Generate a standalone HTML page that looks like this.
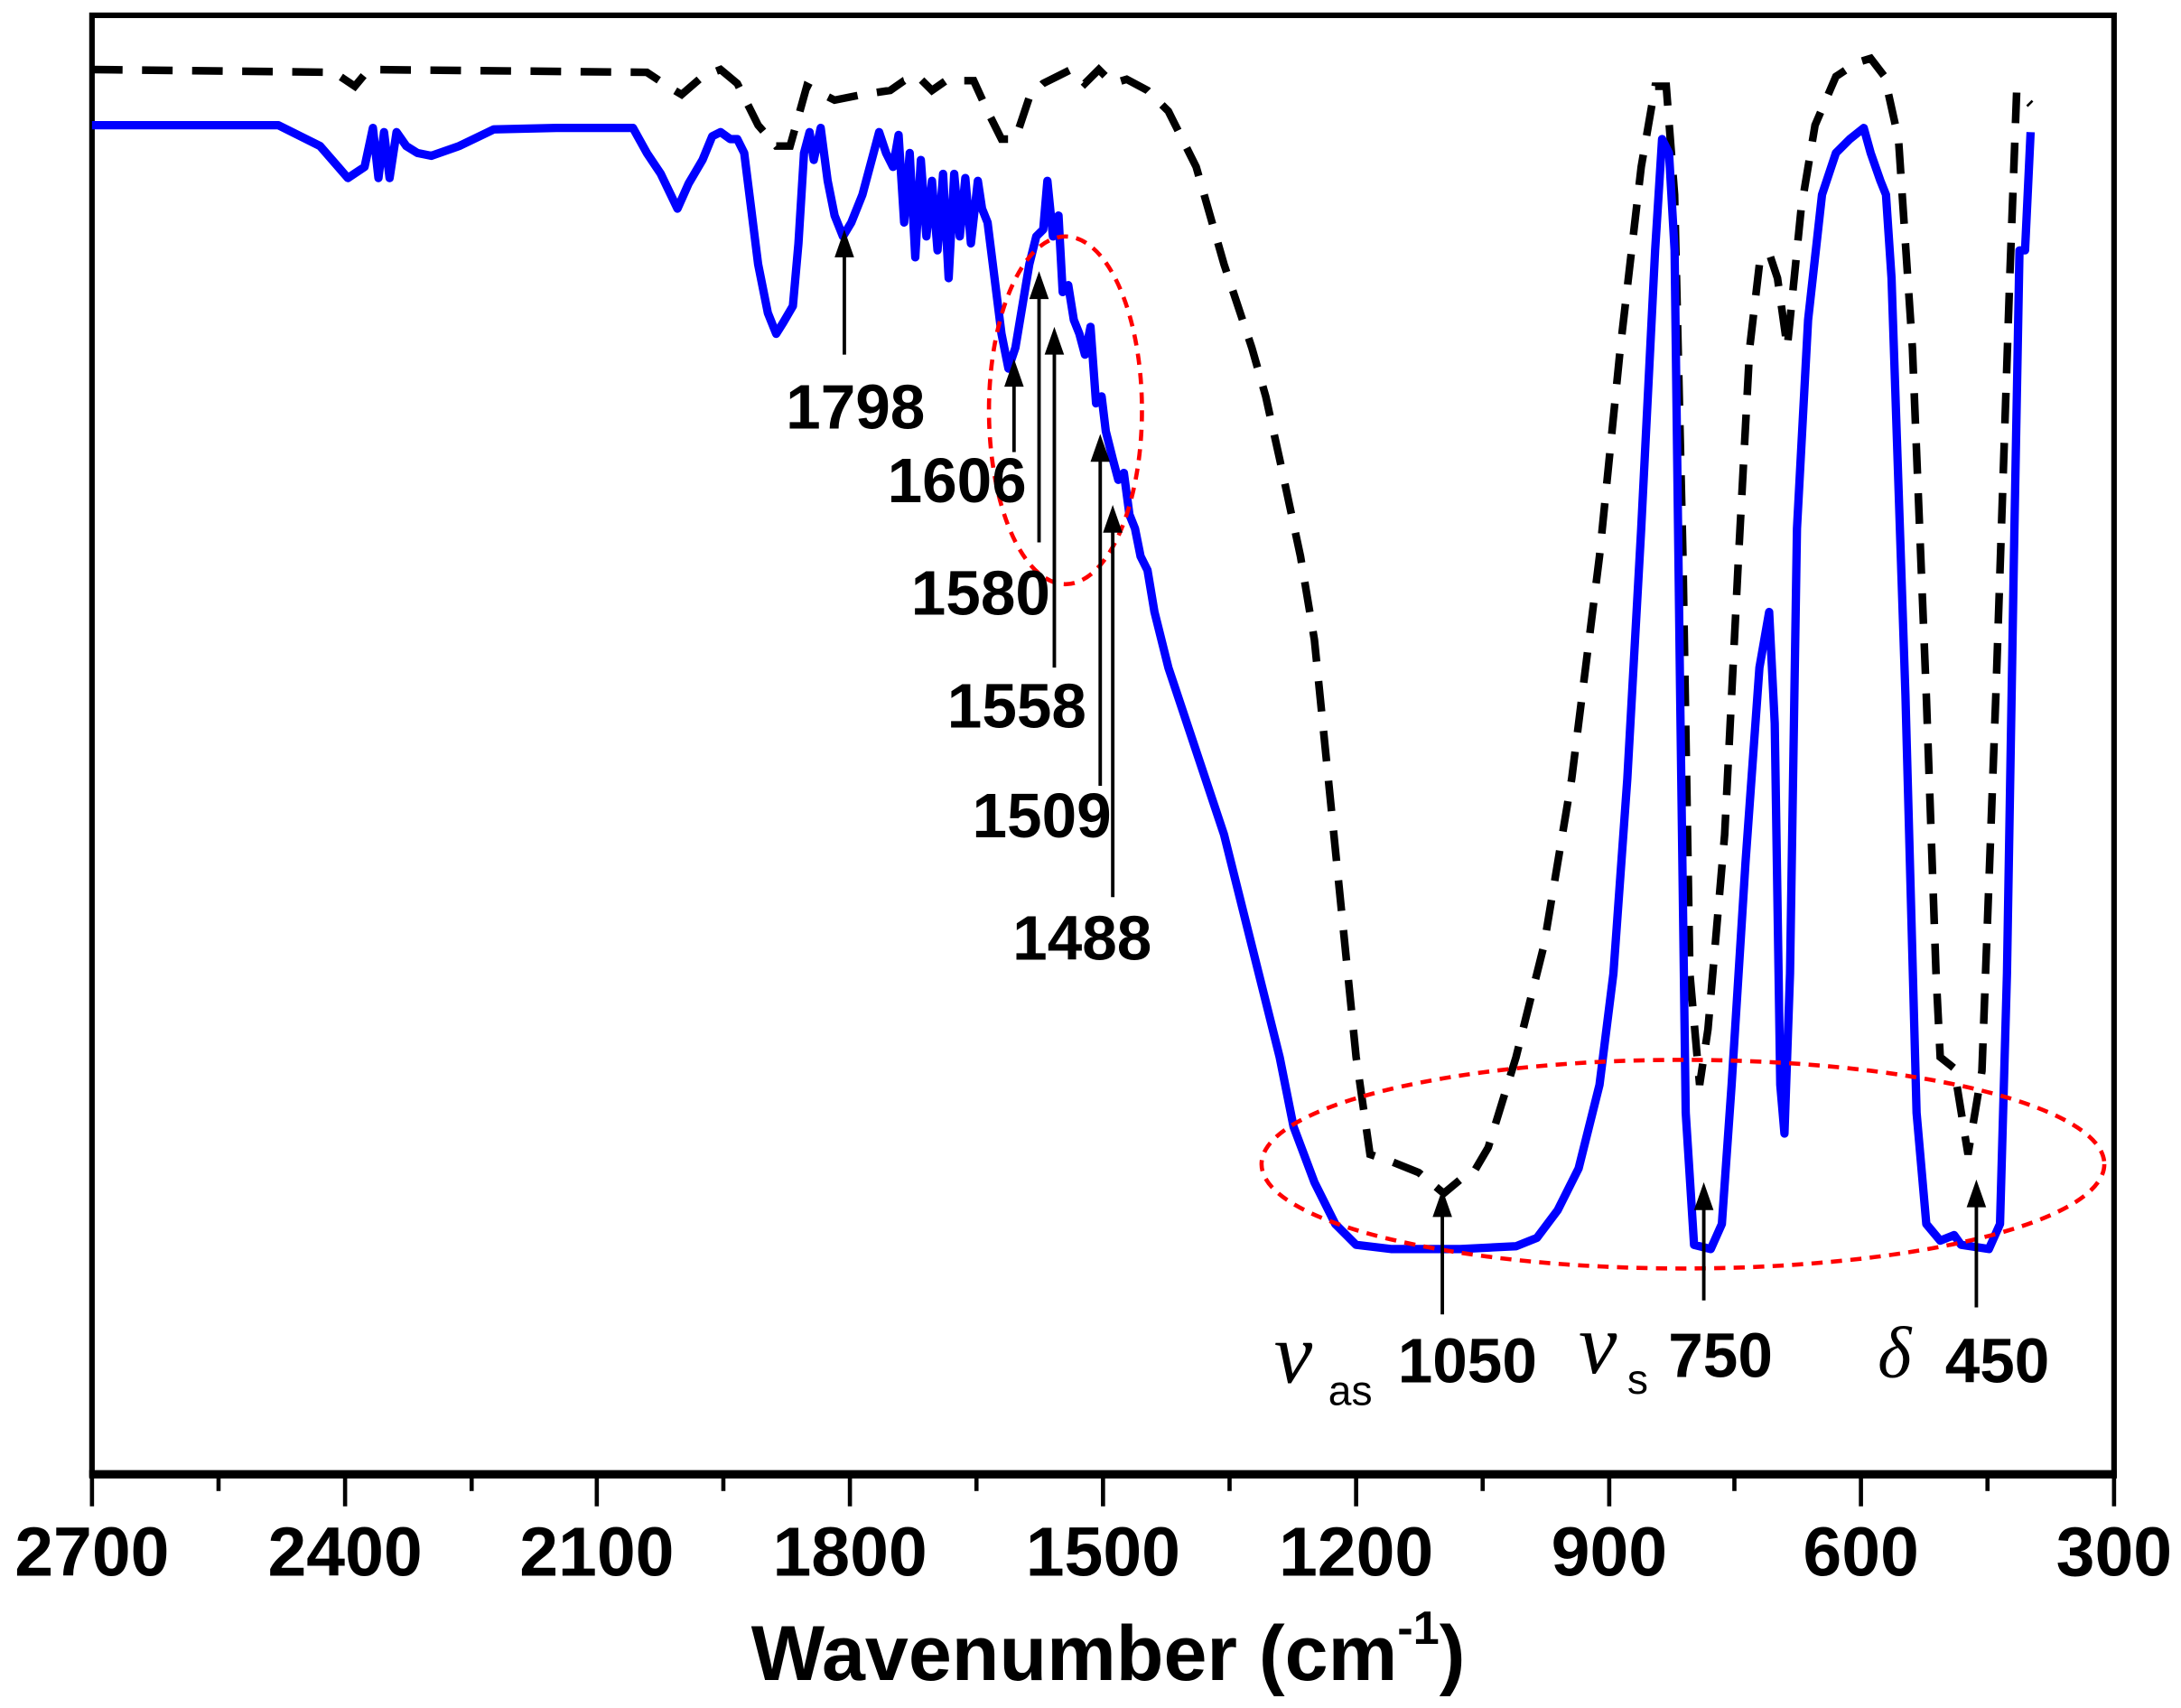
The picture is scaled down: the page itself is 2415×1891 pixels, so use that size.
<!DOCTYPE html>
<html><head><meta charset="utf-8"><style>html,body{margin:0;padding:0;background:#fff}svg{display:block}</style></head><body>
<svg width="2415" height="1891" viewBox="0 0 1568 1228" xmlns="http://www.w3.org/2000/svg" font-family="Liberation Sans, sans-serif">
<rect x="0" y="0" width="1568" height="1228" fill="#fff"/>
<rect x="66" y="11" width="1454" height="1049" fill="none" stroke="#000" stroke-width="4"/>
<line x1="64" y1="1060" x2="1522" y2="1060" stroke="#000" stroke-width="6"/>
<g stroke="#000" stroke-width="3">
<line x1="66" y1="1060" x2="66" y2="1083"/><line x1="157" y1="1060" x2="157" y2="1072"/>
<line x1="248" y1="1060" x2="248" y2="1083"/><line x1="339" y1="1060" x2="339" y2="1072"/>
<line x1="429" y1="1060" x2="429" y2="1083"/><line x1="520" y1="1060" x2="520" y2="1072"/>
<line x1="611" y1="1060" x2="611" y2="1083"/><line x1="702" y1="1060" x2="702" y2="1072"/>
<line x1="793" y1="1060" x2="793" y2="1083"/><line x1="884" y1="1060" x2="884" y2="1072"/>
<line x1="975" y1="1060" x2="975" y2="1083"/><line x1="1066" y1="1060" x2="1066" y2="1072"/>
<line x1="1157" y1="1060" x2="1157" y2="1083"/><line x1="1247" y1="1060" x2="1247" y2="1072"/>
<line x1="1338" y1="1060" x2="1338" y2="1083"/><line x1="1429" y1="1060" x2="1429" y2="1072"/>
<line x1="1520" y1="1060" x2="1520" y2="1083"/>
</g>
<g font-size="50" font-weight="bold" text-anchor="middle">
<text x="66" y="1133">2700</text><text x="248" y="1133">2400</text><text x="429" y="1133">2100</text>
<text x="611" y="1133">1800</text><text x="793" y="1133">1500</text><text x="975" y="1133">1200</text>
<text x="1157" y="1133">900</text><text x="1338" y="1133">600</text><text x="1520" y="1133">300</text>
</g>
<text x="540" y="1208" font-size="56" font-weight="bold">Wavenumber (cm<tspan font-size="34" dy="-26">-1</tspan><tspan dy="26">)</tspan></text>

<polyline fill="none" stroke="#000" stroke-width="5.5" stroke-dasharray="22 14" points="66,50 240,52 255,62 265,50 465,52 480,62 490,68 505,55 518,50 530,60 545,90 558,105 568,105 575,80 580,62 600,72 620,68 640,65 650,58 660,55 670,65 680,58 700,58 710,80 720,100 730,100 740,70 750,60 760,55 770,50 780,60 790,50 800,60 810,57 825,65 840,80 860,120 880,190 900,250 910,285 920,330 935,400 945,460 955,560 965,660 975,760 985,830 1000,835 1020,843 1038,858 1050,848 1060,842 1070,825 1090,760 1110,680 1130,560 1150,400 1165,250 1180,120 1190,62 1198,62 1204,140 1210,400 1215,700 1222,780 1228,740 1240,600 1250,400 1258,250 1265,190 1272,182 1278,200 1285,250 1295,150 1305,90 1320,55 1335,45 1345,42 1355,55 1365,100 1375,250 1385,500 1392,700 1395,760 1405,768 1415,830 1425,770 1435,500 1445,200 1450,65 1460,75"/>

<polyline fill="none" stroke="#0000ff" stroke-width="6" stroke-linejoin="round" points="66,90 200,90 230,105 250,128 262,120 268,92 272,128 276,95 280,128 285,95 292,105 300,110 310,112 330,105 355,93 400,92 455,92 465,110 475,125 487,150 495,132 505,115 512,98 518,95 525,100 530,100 535,110 540,150 545,190 552,225 558,240 563,232 570,220 574,175 578,110 582,95 585,115 590,92 595,130 600,155 606,170 612,160 620,140 628,110 632,95 637,110 642,120 646,97 650,160 654,110 658,185 662,115 666,170 670,130 674,180 678,125 682,200 686,125 690,170 694,128 698,175 703,130 706,150 710,160 715,200 720,240 725,265 730,250 735,220 740,190 745,170 750,165 753,130 757,170 761,155 764,210 768,205 772,230 776,240 780,255 784,235 788,290 792,285 795,310 800,330 804,345 808,340 812,370 816,380 820,400 825,410 830,440 840,480 860,540 880,600 900,680 920,760 930,810 945,850 960,880 975,895 1000,898 1050,898 1090,896 1105,890 1120,870 1135,840 1150,780 1160,700 1170,560 1180,380 1190,180 1195,100 1200,110 1204,180 1208,500 1212,800 1218,895 1230,898 1238,880 1245,780 1255,620 1265,480 1272,440 1276,520 1280,780 1283,815 1287,700 1292,380 1300,230 1310,140 1320,110 1330,100 1340,92 1345,110 1352,130 1356,140 1360,200 1370,500 1378,800 1385,880 1395,892 1405,888 1410,895 1430,898 1438,880 1443,700 1448,400 1452,180 1456,180 1460,95"/>

<g fill="none" stroke="#ff0000" stroke-width="3" stroke-dasharray="8 6">
<ellipse cx="766" cy="295" rx="55" ry="125"/>
<ellipse cx="1210" cy="837" rx="303" ry="75"/>
</g>

<g stroke="#000" stroke-width="2.5">
<line x1="607" y1="255" x2="607" y2="180"/><line x1="729" y1="325" x2="729" y2="270"/>
<line x1="747" y1="390" x2="747" y2="210"/><line x1="758" y1="480" x2="758" y2="250"/>
<line x1="791" y1="565" x2="791" y2="325"/><line x1="800" y1="645" x2="800" y2="375"/>
<line x1="1037" y1="945" x2="1037" y2="870"/><line x1="1225" y1="935" x2="1225" y2="865"/>
<line x1="1421" y1="940" x2="1421" y2="862"/>
</g>
<g fill="#000">
<polygon points="607,165 600,185 614,185"/><polygon points="729,258 722,278 736,278"/>
<polygon points="747,195 740,215 754,215"/><polygon points="758,235 751,255 765,255"/>
<polygon points="791,312 784,332 798,332"/><polygon points="800,363 793,383 807,383"/>
<polygon points="1037,855 1030,875 1044,875"/><polygon points="1225,850 1218,870 1232,870"/>
<polygon points="1421,848 1414,868 1428,868"/>
</g>
<g font-size="45" font-weight="bold" text-anchor="middle">
<text x="615" y="308">1798</text><text x="688" y="361">1606</text><text x="705" y="442">1580</text>
<text x="731" y="523">1558</text><text x="749" y="602">1509</text><text x="778" y="690">1488</text>
<text x="1055" y="994">1050</text><text x="1237" y="990">750</text><text x="1436" y="994">450</text>
</g>
<g font-family="Liberation Serif, serif" font-style="italic">
<text x="916" y="994" font-size="62">ν</text>
<text x="1135" y="987" font-size="62">ν</text>
<text x="1350" y="990" font-size="52">δ</text>
</g>
<text x="955" y="1010" font-size="30">as</text>
<text x="1170" y="1002" font-size="30">s</text>
</svg>
</body></html>
